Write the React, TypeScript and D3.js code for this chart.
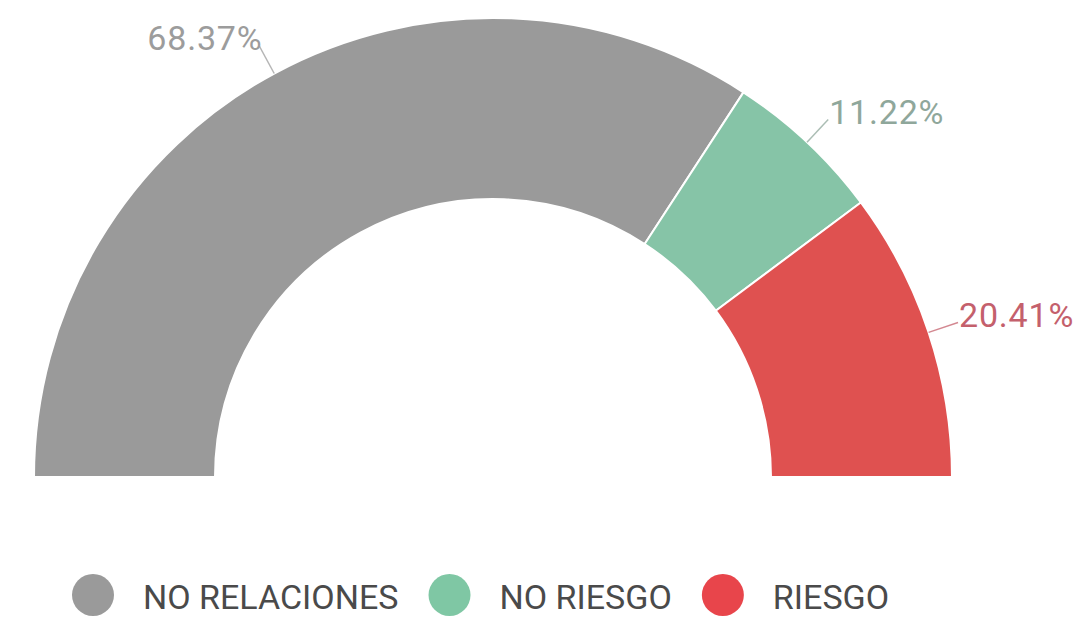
import React, { useEffect, useRef } from "react";
import * as d3 from "d3";

const categories = ["NO RELACIONES", "NO RIESGO", "RIESGO"];
const values = [68.37, 11.22, 20.41];
const labels = ["68.37%", "11.22%", "20.41%"];
const sliceColors = ["#9a9a9a", "#86c4a7", "#df5150"];
const labelColors = ["#9c9c9c", "#8fa79b", "#c4606c"];
const legendColors = ["#9a9a9a", "#7fc7a4", "#e8454b"];

const W = 1076;
const H = 617;

export default function App() {
  const ref = useRef<SVGSVGElement | null>(null);

  useEffect(() => {
    const svg = d3.select(ref.current);
    svg.selectAll("*").remove();

    const cx = 493;
    const cy = 477;
    const outerR = 459;
    const innerR = 278;

    const data = categories.map((c, i) => ({ name: c, value: values[i], i }));
    const pie = d3
      .pie<any>()
      .value((d) => d.value)
      .sort(null)
      .startAngle(-Math.PI / 2)
      .endAngle(Math.PI / 2);
    const arcs = pie(data);
    const arc = d3.arc<any>().innerRadius(innerR).outerRadius(outerR);

    const g = svg.append("g").attr("transform", `translate(${cx},${cy})`);
    g.selectAll("path.slice")
      .data(arcs)
      .join("path")
      .attr("class", "slice")
      .attr("d", arc as any)
      .attr("fill", (d: any) => sliceColors[d.data.i])
      .attr("stroke", "#ffffff")
      .attr("stroke-width", 2)
      .attr("stroke-linejoin", "round");

    const lineR = 490;
    arcs.forEach((d: any) => {
      const mid = (d.startAngle + d.endAngle) / 2;
      const x0 = Math.sin(mid) * outerR;
      const y0 = -Math.cos(mid) * outerR;
      const x1 = Math.sin(mid) * lineR;
      const y1 = -Math.cos(mid) * lineR;
      const i = d.data.i;
      g.append("line")
        .attr("x1", x0)
        .attr("y1", y0)
        .attr("x2", x1)
        .attr("y2", y1)
        .attr("stroke", labelColors[i])
        .attr("stroke-opacity", 0.75)
        .attr("stroke-width", 1.5);
      const right = x1 > 0;
      g.append("text")
        .attr("x", right ? x1 + 1 : x1 + 3)
        .attr("y", y1 + 4)
        .attr("text-anchor", right ? "start" : "end")
        .attr("font-family", "Roboto, sans-serif")
        .attr("font-size", 34)
        .attr("letter-spacing", 0.8)
        .attr("fill", labelColors[i])
        .text(labels[i]);
    });

    // legend
    const legend = svg.append("g");
    let x = 72;
    const ly = 595;
    const r = 21;
    categories.forEach((c, i) => {
      legend
        .append("circle")
        .attr("cx", x + r)
        .attr("cy", ly)
        .attr("r", r)
        .attr("fill", legendColors[i]);
      const t = legend
        .append("text")
        .attr("x", x + 2 * r + 29)
        .attr("y", ly + 14)
        .attr("font-family", "Roboto, sans-serif")
        .attr("font-size", 34)
        .attr("fill", "#4a4a4a")
        .text(c);
      const tw = (t.node() as SVGTextElement).getComputedTextLength();
      x = x + 2 * r + 29 + tw + 30;
    });
  }, []);

  return (
    <svg
      ref={ref}
      width={W}
      height={H}
      style={{ position: "absolute", left: 0, top: 0, background: "#fff" }}
    />
  );
}
